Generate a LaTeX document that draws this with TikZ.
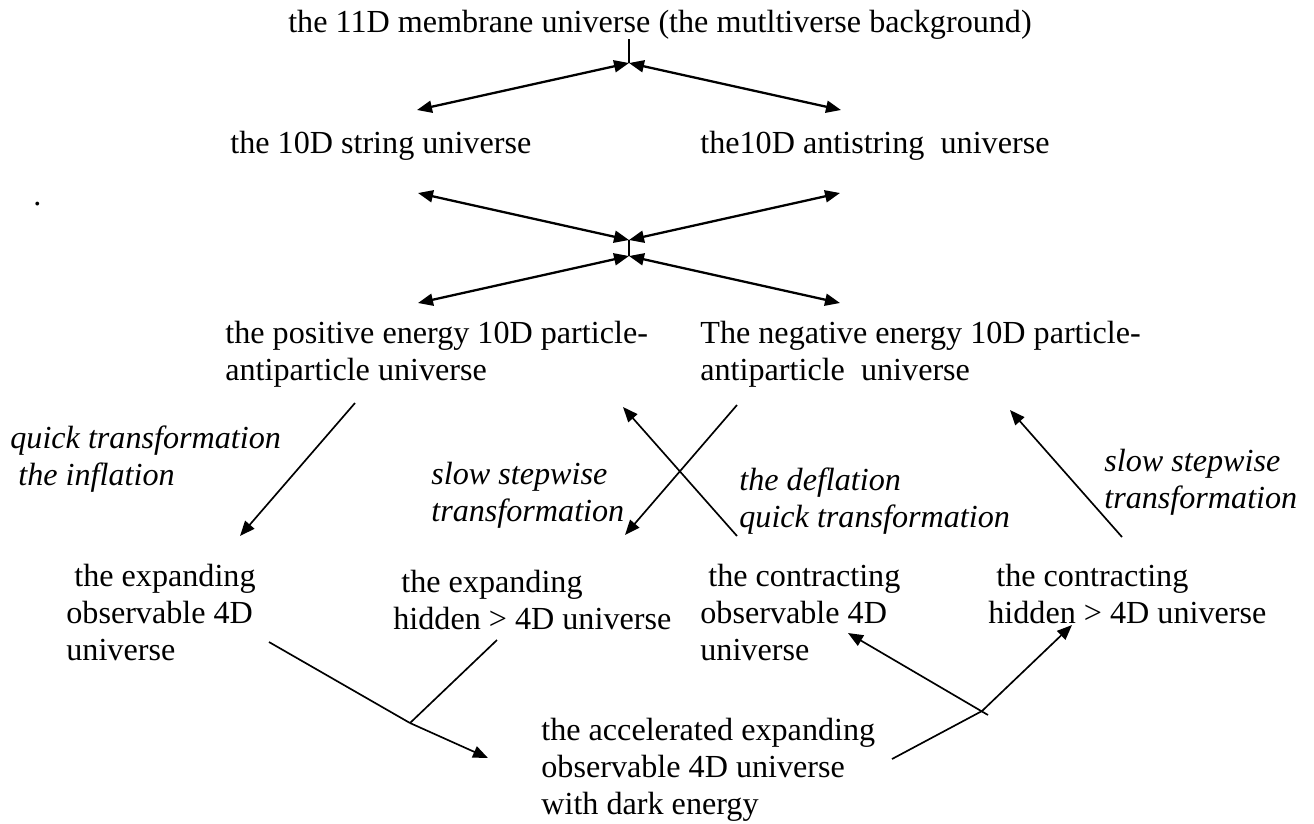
\documentclass[tikz,border=0pt]{standalone}
\usepackage{fontspec}
\setmainfont{Liberation Serif}
\usetikzlibrary{arrows.meta}

\begin{document}
\begin{tikzpicture}[x=0.02cm, y=-0.02cm,
  font=\fontsize{18.3}{20.8}\selectfont,
  txt/.style={anchor=base west, align=left, inner sep=0pt},
  lbl/.style={txt, font=\fontsize{18.3}{20.8}\selectfont\itshape},
  >={Triangle[length=3mm, width=2.4mm]},
  ar/.style={line width=1.3pt},
  ln/.style={line width=0.95pt},
]
\useasboundingbox (0,0) rectangle (1314,823);
% --- the membrane and the string / antistring universes ---------------
\node[anchor=base, inner sep=0pt] (mem) at (660,32)
  {the 11D membrane universe (the mutltiverse background)};
\node[txt] (str) at (230,153) {the 10D string universe};
\node[txt] (astr) at (700,153) {the10D antistring\ \ universe};
\node[txt] (dot) at (33,205) {.};
% --- the two 10D particle-antiparticle universes (base = last line) ---
\node[txt] (pos) at (225,380) {the positive energy 10D particle-\\antiparticle universe};
\node[txt] (neg) at (700,380) {The negative energy 10D particle-\\antiparticle\ \ universe};
% --- transformation labels --------------------------------------------
\node[lbl] (infl) at (10,485) {quick transformation\\~the inflation};
\node[lbl] (slowl) at (431,521) {slow stepwise\\transformation};
\node[lbl] (defl) at (739,527) {the deflation\\quick transformation};
\node[lbl] (slowr) at (1104,508) {slow stepwise\\transformation};
% --- the four 4D / hidden universes -----------------------------------
\node[txt] (exo) at (66,660) {~the expanding\\observable 4D\\universe};
\node[txt] (exh) at (393,629) {~the expanding\\hidden > 4D universe};
\node[txt] (coo) at (700,660) {~the contracting\\observable 4D\\universe};
\node[txt] (coh) at (988,623) {~the contracting\\hidden > 4D universe};
\node[txt] (acc) at (541,814)
  {the accelerated expanding\\observable 4D universe\\with dark energy};

% free ends of the connectors
\coordinate (c0) at (629,63);
\coordinate (c1) at (417,110);
\coordinate (c2) at (841,110);
\coordinate (x0) at (629,240);
\coordinate (x1) at (629,256);
\coordinate (x2) at (418,193);
\coordinate (x3) at (840,193);
\coordinate (x4) at (418,303);
\coordinate (x5) at (840,303);
\coordinate (a1) at (355,403);
\coordinate (a2) at (240,536);
\coordinate (b1) at (737,405);
\coordinate (b2) at (625,535);
\coordinate (d1) at (737,536);
\coordinate (d2) at (623,407);
\coordinate (e1) at (1122,537);
\coordinate (e2) at (1010,410);
\coordinate (j) at (410,723);
\coordinate (j1) at (269,642);
\coordinate (j2) at (497,640);
\coordinate (j3) at (488,758);
\coordinate (k) at (982,711);
\coordinate (k0) at (892,759);
\coordinate (k1) at (1072,625);
\coordinate (k2) at (988,715);
\coordinate (k3) at (848,633);

% --- upper fork and cross ---------------------------------------------
\draw[ar] (mem.south -| c0) -- (c0);
\draw[ar, <->] (c1) -- (c0);
\draw[ar, <->] (c0) -- (c2);
\draw[ar, <->] (x2) -- (x0);
\draw[ar, <->] (x0) -- (x3);
\draw[ar] (x0) -- (x1);
\draw[ar, <->] (x4) -- (x1);
\draw[ar, <->] (x1) -- (x5);
% --- transformations --------------------------------------------------
\draw[ln, ->] (a1) -- (a2);
\draw[ln, ->] (b1) -- (b2);
\draw[ln, ->] (d1) -- (d2);
\draw[ln, ->] (e1) -- (e2);
% --- merging into / splitting from the accelerated universe -----------
\draw[ln] (j1) -- (j);
\draw[ln] (j2) -- (j);
\draw[ln, ->] (j) -- (j3);
\draw[ln] (k0) -- (k);
\draw[ln, ->] (k) -- (k1);
\draw[ln, ->] (k2) -- (k3);
\end{tikzpicture}
\end{document}
